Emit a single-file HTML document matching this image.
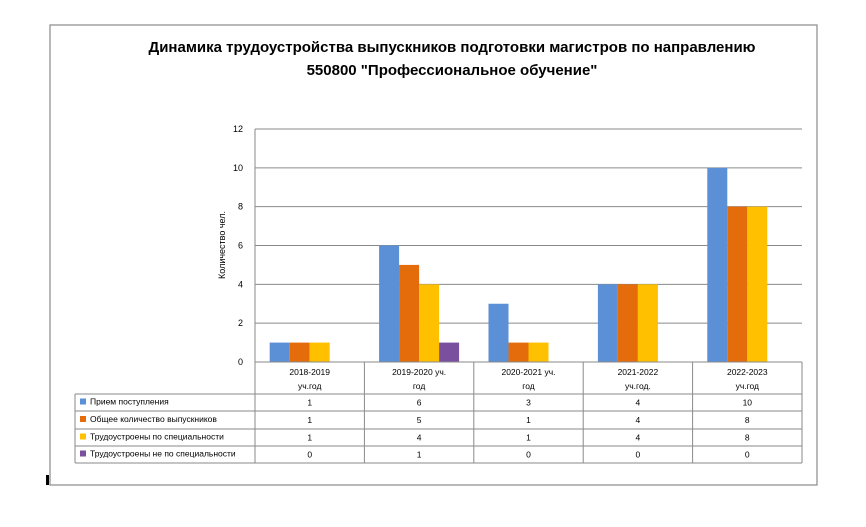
<!DOCTYPE html>
<html><head><meta charset="utf-8"><style>
body{margin:0;background:#fff;font-family:"Liberation Sans","DejaVu Sans",sans-serif;}
svg text{font-family:"Liberation Sans","DejaVu Sans",sans-serif;}
</style></head><body>
<svg width="866" height="522" viewBox="0 0 866 522" xmlns="http://www.w3.org/2000/svg">
<rect x="50" y="25" width="767" height="460" fill="#fff" stroke="#8a8a8a" stroke-width="1.2"/>
<rect x="46" y="475" width="3" height="10" fill="#000"/>
<text x="452" y="52" text-anchor="middle" font-size="15" font-weight="bold">Динамика трудоустройства выпускников подготовки магистров по направлению</text>
<text x="452" y="75" text-anchor="middle" font-size="15" font-weight="bold">550800 "Профессиональное обучение"</text>
<text transform="translate(225,245) rotate(-90)" text-anchor="middle" font-size="9">Количество чел.</text>
<g id="grid"></g><g id="bars"></g><g id="table"></g>
</svg>
<script>
const categories=[["2018-2019","уч.год"],["2019-2020  уч.","год"],["2020-2021  уч.","год"],["2021-2022","уч.год."],["2022-2023","уч.год"]];
const seriesNames=["Прием поступления","Общее количество  выпускников","Трудоустроены  по специальности","Трудоустроены  не по специальности"];
const seriesColors=["#5b8fd6","#e46c0a","#ffc000","#7a4f9e"];
const s1=[1,6,3,4,10];
const s2=[1,5,1,4,8];
const s3=[1,4,1,4,8];
const s4=[0,1,0,0,0];
const series=[s1,s2,s3,s4];
const yTicks=[0,2,4,6,8,10,12];
const NS="http://www.w3.org/2000/svg";
const L=255,R=802,T=129,B=362,yMax=12;
const cw=(R-L)/categories.length;
const y=v=>B-(v/yMax)*(B-T);
const x=i=>L+i*cw;
function mk(tag,attrs,parent,txt){const e=document.createElementNS(NS,tag);for(const k in attrs)e.setAttribute(k,attrs[k]);if(txt!==undefined)e.textContent=txt;parent.appendChild(e);return e;}
const g=document.getElementById('grid'),gb=document.getElementById('bars'),gt=document.getElementById('table');
yTicks.forEach(t=>{
 const ln=mk('line',{x1:L,x2:R,y1:y(t),y2:y(t),stroke:'#8a8a8a','stroke-width':1},g);
 
 
 const tx=mk('text',{x:243,y:y(t)+3,'text-anchor':'end','font-size':9},g,String(t));
 
 
});
const ax=mk('line',{x1:L,x2:L,y1:T,y2:B,stroke:'#8a8a8a'},g);


const bw=20,off=(cw-4*bw)/2;
series.forEach((s,si)=>{s.forEach((v,i)=>{
 if(v<=0)return;
 const r=mk('rect',{x:x(i)+off+si*bw,y:y(v),width:bw,height:B-y(v),fill:seriesColors[si]},gb);
 
 
});});
// table
const rowsY=[394,411,429,446,463],TL=75;
const st={stroke:'#8a8a8a','stroke-width':1};
mk('line',Object.assign({x1:L,x2:R,y1:B,y2:B},st),gt);
rowsY.forEach((ry,k)=>{mk('line',Object.assign({x1:k==0?TL:TL,x2:R,y1:ry,y2:ry},st),gt);});
mk('line',Object.assign({x1:TL,x2:TL,y1:394,y2:463},st),gt);
for(let i=0;i<=categories.length;i++){mk('line',Object.assign({x1:x(i),x2:x(i),y1:B,y2:463},st),gt);}
categories.forEach((c,i)=>{
 const t1=mk('text',{x:x(i)+cw/2,y:375,'text-anchor':'middle','font-size':8.5},gt,c[0]);
 
 
 const t2=mk('text',{x:x(i)+cw/2,y:389,'text-anchor':'middle','font-size':8.5},gt,c[1]);
 
 
});
series.forEach((s,si)=>{
 const cy=(rowsY[si]+rowsY[si+1])/2;
 const m=mk('rect',{x:80,y:cy-4,width:6,height:6,fill:seriesColors[si]},gt);
 
 
 const n=mk('text',{x:90,y:cy+2,'font-size':8.5},gt,seriesNames[si]);
 
 
 s.forEach((v,i)=>{
  const tv=mk('text',{x:x(i)+cw/2,y:cy+3,'text-anchor':'middle','font-size':8.5},gt,String(v));
  
  
 });
});
</script>
</body></html>
